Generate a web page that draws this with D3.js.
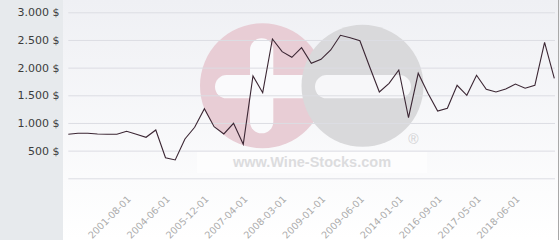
<!DOCTYPE html>
<html>
<head>
<meta charset="utf-8">
<script src="https://cdn.jsdelivr.net/npm/d3@7"></script>
<style>
    html, body { margin: 0; padding: 0; background: #ffffff; }
    #chart { width: 560px; height: 240px; }
    svg { display: block; }
</style>
</head>
<body>
<div id="chart"></div>
<script>
// Price history, one value per listed sale (equally spaced categories).
const prices = [
    795, 813, 813, 800, 795, 795, 849, 795, 741, 873,
    372, 331, 710, 922, 1258, 933, 801, 994, 614, 1849,
    1547, 2518, 2288, 2187, 2360, 2078, 2151, 2319, 2584, 2541,
    2487, 2017, 1560, 1717, 1957, 1095, 1898, 1536, 1216, 1265,
    1681, 1500, 1862, 1608, 1560, 1614, 1704, 1627, 1681, 2458,
    1807
];

// Only every 4th sale date is printed on the axis.
const tickIndex = [6, 10, 14, 18, 22, 26, 30, 34, 38, 42, 46];
const tickLabels = [
    "2001-08-01", "2004-06-01", "2005-12-01", "2007-04-01", "2008-03-01",
    "2009-01-01", "2009-06-01", "2014-01-01", "2016-09-01", "2017-05-01",
    "2018-06-01"
];
const yTicks = [0, 500, 1000, 1500, 2000, 2500, 3000];

const W = 560, H = 240;
const panelW = 63;
const plot = { left: 68.3, right: 555, top: 12.3, bottom: 178.3 };

const svg = d3.select("#chart").append("svg")
    .attr("width", W)
    .attr("height", H);

const defs = svg.append("defs");
const grad = defs.append("linearGradient")
    .attr("id", "bg")
    .attr("x1", 0).attr("y1", 0).attr("x2", 0).attr("y2", 1);
grad.append("stop").attr("offset", "0%").attr("stop-color", "#eff0f4");
grad.append("stop").attr("offset", "100%").attr("stop-color", "#ffffff");

// Left label panel and plot background.
svg.append("rect")
    .attr("width", panelW).attr("height", H)
    .attr("fill", "#e7eaed");
svg.append("rect")
    .attr("x", panelW).attr("width", W - panelW).attr("height", H)
    .attr("fill", "url(#bg)");
svg.append("line")
    .attr("x1", 558.5).attr("x2", 558.5)
    .attr("y1", 0).attr("y2", H)
    .attr("stroke", "#a8a8a8");

// Watermark logo.
const wm = svg.append("g").attr("class", "watermark");
wm.append("circle")
    .attr("cx", 262.5).attr("cy", 85.8).attr("r", 62.5)
    .attr("fill", "#e8cdd5");
wm.append("rect")
    .attr("x", 250).attr("y", 38.3).attr("width", 23.3).attr("height", 95)
    .attr("rx", 11.6)
    .attr("fill", "#fafafc");
wm.append("rect")
    .attr("x", 215).attr("y", 75).attr("width", 110).attr("height", 23.3)
    .attr("rx", 11.6)
    .attr("fill", "#fafafc");
wm.append("circle")
    .attr("cx", 362.5).attr("cy", 85.8).attr("r", 61)
    .attr("fill", "#d9d9db");
wm.append("rect")
    .attr("x", 315).attr("y", 75).attr("width", 96).attr("height", 23.3)
    .attr("rx", 11.6)
    .attr("fill", "#f7f7f9");
wm.append("text")
    .attr("x", 413.5).attr("y", 144)
    .attr("text-anchor", "middle")
    .attr("font-family", "Liberation Sans, Arial, sans-serif")
    .attr("font-size", "14px")
    .attr("fill", "#d2d2d4")
    .text("\u00ae");
wm.append("rect")
    .attr("x", 197).attr("y", 152).attr("width", 230).attr("height", 21)
    .attr("fill", "#ffffff").attr("opacity", 0.6);
wm.append("text")
    .attr("x", 312).attr("y", 166.5)
    .attr("text-anchor", "middle")
    .attr("font-family", "Liberation Sans, Arial, sans-serif")
    .attr("font-weight", "bold")
    .attr("font-size", "14.5px")
    .attr("fill", "#dcdcde")
    .text("www.Wine-Stocks.com");

const x = d3.scalePoint()
    .domain(d3.range(prices.length))
    .range([plot.left, 554.3]);
const y = d3.scaleLinear()
    .domain([0, 3000])
    .range([plot.bottom, plot.top]);

const locale = d3.formatLocale({
    decimal: ",", thousands: ".", grouping: [3], currency: ["", " $"]
});
const fmt = locale.format("$,.0f");

// Gridlines + y labels.
const yAxis = svg.append("g")
    .attr("transform", `translate(${plot.left},0)`)
    .call(d3.axisLeft(y)
        .tickValues(yTicks)
        .tickSize(-(plot.right - plot.left))
        .tickPadding(plot.left - 59.5)
        .tickFormat(d => d === 0 ? "" : fmt(d)));
yAxis.select(".domain").remove();
yAxis.selectAll(".tick line")
    .attr("stroke", "#dcdde3");
yAxis.selectAll(".tick text")
    .attr("fill", "#3c3c3c")
    .attr("font-family", "DejaVu Sans, sans-serif")
    .attr("font-size", "11px");

// Rotated date labels.
const xAxis = svg.append("g")
    .attr("transform", `translate(0,${plot.bottom})`)
    .call(d3.axisBottom(x)
        .tickValues(tickIndex)
        .tickSize(0)
        .tickFormat((d, i) => tickLabels[i]));
xAxis.select(".domain").remove();
xAxis.selectAll(".tick text")
    .attr("fill", "#ababab")
    .attr("font-family", "DejaVu Sans, sans-serif")
    .attr("font-size", "9.6px")
    .attr("text-anchor", "end")
    .attr("dy", null)
    .attr("y", 0)
    .attr("transform", "translate(4.5,21.5) rotate(-45)");

// Price line.
const line = d3.line()
    .x((d, i) => x(i))
    .y(d => y(d));
svg.append("path")
    .datum(prices)
    .attr("fill", "none")
    .attr("stroke", "#3b2633")
    .attr("stroke-width", 1.1)
    .attr("stroke-linejoin", "miter")
    .attr("d", line);
</script>
</body>
</html>
